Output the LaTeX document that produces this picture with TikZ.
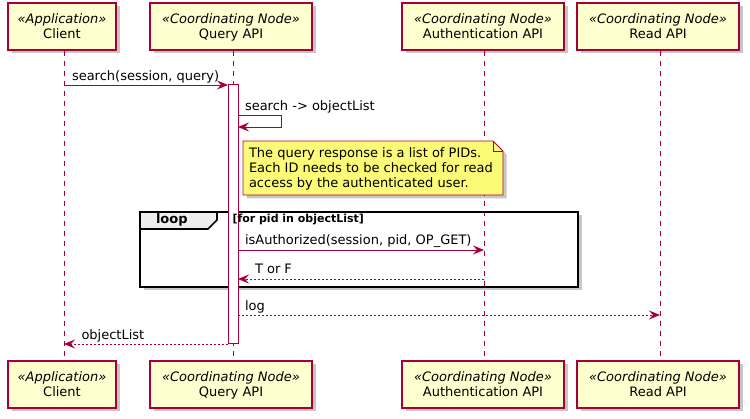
\documentclass[tikz,border=0pt]{standalone}
\usepackage{fontspec}
\setmainfont{DejaVu Sans}
\usetikzlibrary{arrows.meta,shadows}
\definecolor{pborder}{HTML}{A80036}
\definecolor{pfill}{HTML}{FEFECE}
\definecolor{nfill}{HTML}{FBFB77}
\definecolor{gfill}{HTML}{EEEEEE}
\begin{document}
\begin{tikzpicture}[x=1pt,y=-1pt,
  every node/.style={inner sep=0pt, outer sep=0pt},
  shad/.style={drop shadow={shadow xshift=3.5pt,shadow yshift=-3.5pt,opacity=0.22,fill=black}},
  part/.style={draw=pborder, fill=pfill, line width=1.3pt, minimum width=#1, minimum height=47pt,
    align=center, text depth=0pt, font=\fontsize{13}{15}\selectfont, shad},
  lifeline/.style={draw=pborder, line width=0.9pt, dash pattern=on 5pt off 5pt},
  msg/.style={draw=pborder, line width=0.9pt, -{Stealth[length=11pt,width=9pt,inset=4pt]}},
  ret/.style={msg, dash pattern=on 2pt off 2pt},
  lbl/.style={anchor=base west, font=\fontsize{13}{15}\selectfont},
  notebox/.style={draw=pborder, fill=nfill, line width=0.9pt, shad},
  loopframe/.style={draw=black, line width=1.6pt},
  looptab/.style={draw=black, fill=gfill, line width=1.6pt},
  actbar/.style={draw=pborder, fill=white, line width=1pt},
]
\useasboundingbox (0,0) rectangle (750,419);

% participants
\node[part=108pt] (cT) at (62,26.5) {\textit{«Application»}\\Client};
\node[part=162pt] (qT) at (231,26.5) {\textit{«Coordinating Node»}\\Query API};
\node[part=162pt] (aT) at (483,26.5) {\textit{«Coordinating Node»}\\Authentication API};
\node[part=162pt] (rT) at (658,26.5) {\textit{«Coordinating Node»}\\Read API};
\node[part=108pt] (cB) at (62,384.5) {\textit{«Application»}\\Client};
\node[part=162pt] (qB) at (231,384.5) {\textit{«Coordinating Node»}\\Query API};
\node[part=162pt] (aB) at (483,384.5) {\textit{«Coordinating Node»}\\Authentication API};
\node[part=162pt] (rB) at (658,384.5) {\textit{«Coordinating Node»}\\Read API};

% loop frame background with shadow
\path[fill=white, shad] (140,212) rectangle (578,287);

% lifelines
\coordinate (lcT) at (64,50.6);  \coordinate (lcB) at (64,360.4);
\coordinate (lqT) at (233,50.6); \coordinate (lqB) at (233,360.4);
\coordinate (laT) at (484,50.6); \coordinate (laB) at (484,360.4);
\coordinate (lrT) at (660,50.6); \coordinate (lrB) at (660,360.4);
\draw[lifeline] (lcT) -- (lcB);
\draw[lifeline] (lqT) -- (lqB);
\draw[lifeline] (laT) -- (laB);
\draw[lifeline] (lrT) -- (lrB);

% loop frame
\draw[loopframe] (140,212) rectangle (578,287);
\draw[looptab] (140,212) -- (217,212) -- (217,220) -- (208,229) -- (140,229) -- cycle;
\node[anchor=base west, font=\fontsize{13}{15}\selectfont\bfseries] (looplbl) at (156,224) {loop};

% activation bar
\node[actbar, minimum width=10pt, minimum height=259pt] (act) at (233,214.5) {};

% loop guard (drawn over the bar)
\node[anchor=base west, font=\fontsize{11}{13}\selectfont\bfseries] (guard) at (232.5,223) {[for pid in objectList]};

% note
\draw[notebox] (243,141) -- (493,141) -- (503,151) -- (503,195) -- (243,195) -- cycle;
\draw[draw=pborder, line width=0.9pt] (493,141) -- (493,151) -- (503,151);
\node[anchor=north west, align=left, font=\fontsize{13}{15}\selectfont] (notetext) at (249,147.4)
  {The query response is a list of PIDs.\\Each ID needs to be checked for read\\access by the authenticated user.};

% messages
\coordinate (m1a) at (64,85);   \coordinate (m1b) at (228,85);
\draw[msg] (m1a) -- (m1b);
\node[lbl] (m1l) at (72,81) {search(session, query)};

\coordinate (s1a) at (238,115); \coordinate (s1c) at (281,115);
\coordinate (s1d) at (281,127); \coordinate (s1b) at (238,127);
\draw[msg] (s1a) -- (s1c) -- (s1d) -- (s1b);
\node[lbl] (s1l) at (245,110.5) {search -> objectList};

\coordinate (m2a) at (238,250); \coordinate (m2b) at (484,250);
\draw[msg] (m2a) -- (m2b);
\node[lbl] (m2l) at (245,244.5) {isAuthorized(session, pid, OP\_GET)};

\coordinate (m3a) at (484,279); \coordinate (m3b) at (238,279);
\draw[ret] (m3a) -- (m3b);
\node[lbl] (m3l) at (255,274) {T or F};

\coordinate (m4a) at (238,315); \coordinate (m4b) at (660,315);
\draw[ret] (m4a) -- (m4b);
\node[lbl] (m4l) at (245,310.5) {log};

\coordinate (m5a) at (228,344); \coordinate (m5b) at (64,344);
\draw[ret] (m5a) -- (m5b);
\node[lbl] (m5l) at (81.5,339.5) {objectList};
\end{tikzpicture}
\end{document}
